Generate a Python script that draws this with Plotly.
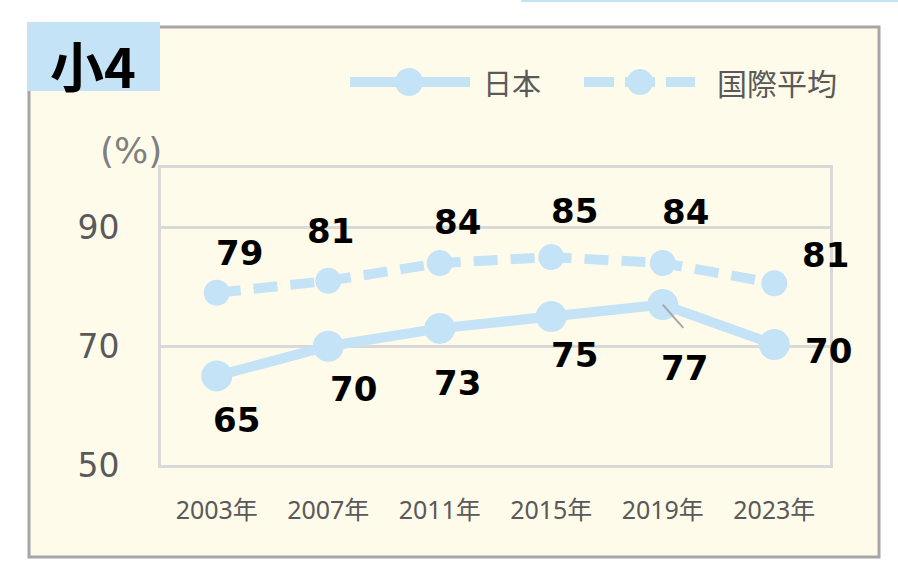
import plotly.graph_objects as go

# ---- data ----
years = ["2003年", "2007年", "2011年", "2015年", "2019年", "2023年"]
japan = [65.0, 70.0, 73.0, 75.0, 77.0, 70.3]
intl = [79.0, 81.0, 84.0, 85.0, 84.0, 80.6]
y_ticks = [50, 70, 90]
series_names = ["日本", "国際平均"]
panel_title = "小4"
unit_label = "(%)"

# ---- style ----
W, H = 898, 578
L, R, T, B = 161, 830, 168, 465
BLUE = "#C5E3F6"
CREAM = "#FFFBEB"
GRID = "#D9D9D9"
TXT = "#595959"
LABEL_FONT = dict(family="DejaVu Sans", size=34, color="black", weight="bold")

# label offsets in pixels (xshift, yshift)
jp_off = [(20, -44), (25, -43), (18, -55), (23, -38), (22, -63), (54, -7)]
in_off = [(23, 40), (2, 50), (18, 41), (23, 46), (23, 51), (51, 28)]


def px(x):
    return (x - L) / (R - L)


def py(y):
    return (B - y) / (B - T)


fig = go.Figure()
fig.add_trace(go.Scatter(
    x=years, y=intl, mode="lines+markers", name=series_names[1],
    line=dict(color=BLUE, width=10, dash="24px,13px"),
    marker=dict(color=BLUE, size=26), hoverinfo="skip", cliponaxis=False))
fig.add_trace(go.Scatter(
    x=years, y=japan, mode="lines+markers", name=series_names[0],
    line=dict(color=BLUE, width=10),
    marker=dict(color=BLUE, size=31), hoverinfo="skip", cliponaxis=False))

annotations = []
for i, v in enumerate(japan):
    annotations.append(dict(x=years[i], y=v, xref="x", yref="y", text=f"<b>{v:.0f}</b>",
                            showarrow=False, xshift=jp_off[i][0], yshift=jp_off[i][1],
                            font=LABEL_FONT, xanchor="center", yanchor="middle"))
for i, v in enumerate(intl):
    annotations.append(dict(x=years[i], y=v, xref="x", yref="y", text=f"<b>{v:.0f}</b>",
                            showarrow=False, xshift=in_off[i][0], yshift=in_off[i][1],
                            font=LABEL_FONT, xanchor="center", yanchor="middle"))
# leader line for 2019 Japan label
annotations.append(dict(x=years[4], y=japan[4], xref="x", yref="y", text=" ",
                        showarrow=True, ax=22, ay=25, arrowhead=0, arrowwidth=2,
                        arrowcolor="#A6A6A6", font=dict(size=1), standoff=0))

# title, unit, legend texts
annotations.append(dict(x=px(93), y=py(64), xref="paper", yref="paper", text=f"<b>{panel_title}</b>",
                        showarrow=False, font=dict(family="Noto Sans CJK JP", size=54, color="black",
                                                   weight="bold"),
                        xanchor="center", yanchor="middle"))
annotations.append(dict(x=px(131), y=py(150), xref="paper", yref="paper", text=unit_label,
                        showarrow=False, font=dict(family="DejaVu Sans", size=36, color="#7F7F7F"),
                        xanchor="center", yanchor="middle"))
annotations.append(dict(x=px(481), y=py(82), xref="paper", yref="paper", text=series_names[0],
                        showarrow=False, font=dict(family="Noto Sans CJK JP", size=29, color=TXT),
                        xanchor="left", yanchor="middle"))
annotations.append(dict(x=px(715), y=py(82), xref="paper", yref="paper", text=series_names[1],
                        showarrow=False, font=dict(family="Noto Sans CJK JP", size=30, color=TXT),
                        xanchor="left", yanchor="middle"))

shapes = [
    # outer frame
    dict(type="rect", xref="paper", yref="paper", x0=px(29), x1=px(879), y0=py(557), y1=py(27),
         fillcolor=CREAM, line=dict(color="#A6A6A6", width=3), layer="below"),
    # top thin line
    dict(type="line", xref="paper", yref="paper", x0=px(521), x1=px(898), y0=py(1), y1=py(1),
         line=dict(color=BLUE, width=2)),
    # title box
    dict(type="rect", xref="paper", yref="paper", x0=px(27), x1=px(160), y0=py(91), y1=py(22),
         fillcolor=BLUE, line=dict(width=0), layer="below"),
    # legend: Japan
    dict(type="line", xref="paper", yref="paper", x0=px(350), x1=px(470), y0=py(82), y1=py(82),
         line=dict(color=BLUE, width=10)),
    dict(type="circle", xref="paper", yref="paper", x0=px(395), x1=px(423), y0=py(96), y1=py(68),
         fillcolor=BLUE, line=dict(width=0)),
    # legend: international
    dict(type="line", xref="paper", yref="paper", x0=px(584), x1=px(695), y0=py(82), y1=py(82),
         line=dict(color=BLUE, width=10, dash="30px,11px")),
    dict(type="circle", xref="paper", yref="paper", x0=px(627), x1=px(653), y0=py(95), y1=py(69),
         fillcolor=BLUE, line=dict(width=0)),
]

fig.update_layout(
    width=W, height=H,
    margin=dict(l=L, r=W - R, t=T, b=H - B, pad=0),
    paper_bgcolor="white", plot_bgcolor=CREAM,
    showlegend=False,
    annotations=annotations, shapes=shapes,
    xaxis=dict(type="category", range=[-0.5, len(years) - 0.5], showgrid=False,
               showline=True, mirror=True, linecolor=GRID, linewidth=3, ticks="",
               tickfont=dict(family="Noto Sans, Noto Sans CJK JP", size=25, color=TXT),
               ticklabelstandoff=21, zeroline=False),
    yaxis=dict(range=[50, 100], tickvals=y_ticks, showgrid=True, gridcolor=GRID, gridwidth=3,
               showline=True, mirror=True, linecolor=GRID, linewidth=3, ticks="",
               tickfont=dict(family="DejaVu Sans", size=33, color=TXT),
               ticklabelstandoff=32, zeroline=False),
)

fig.write_html("out.html")
